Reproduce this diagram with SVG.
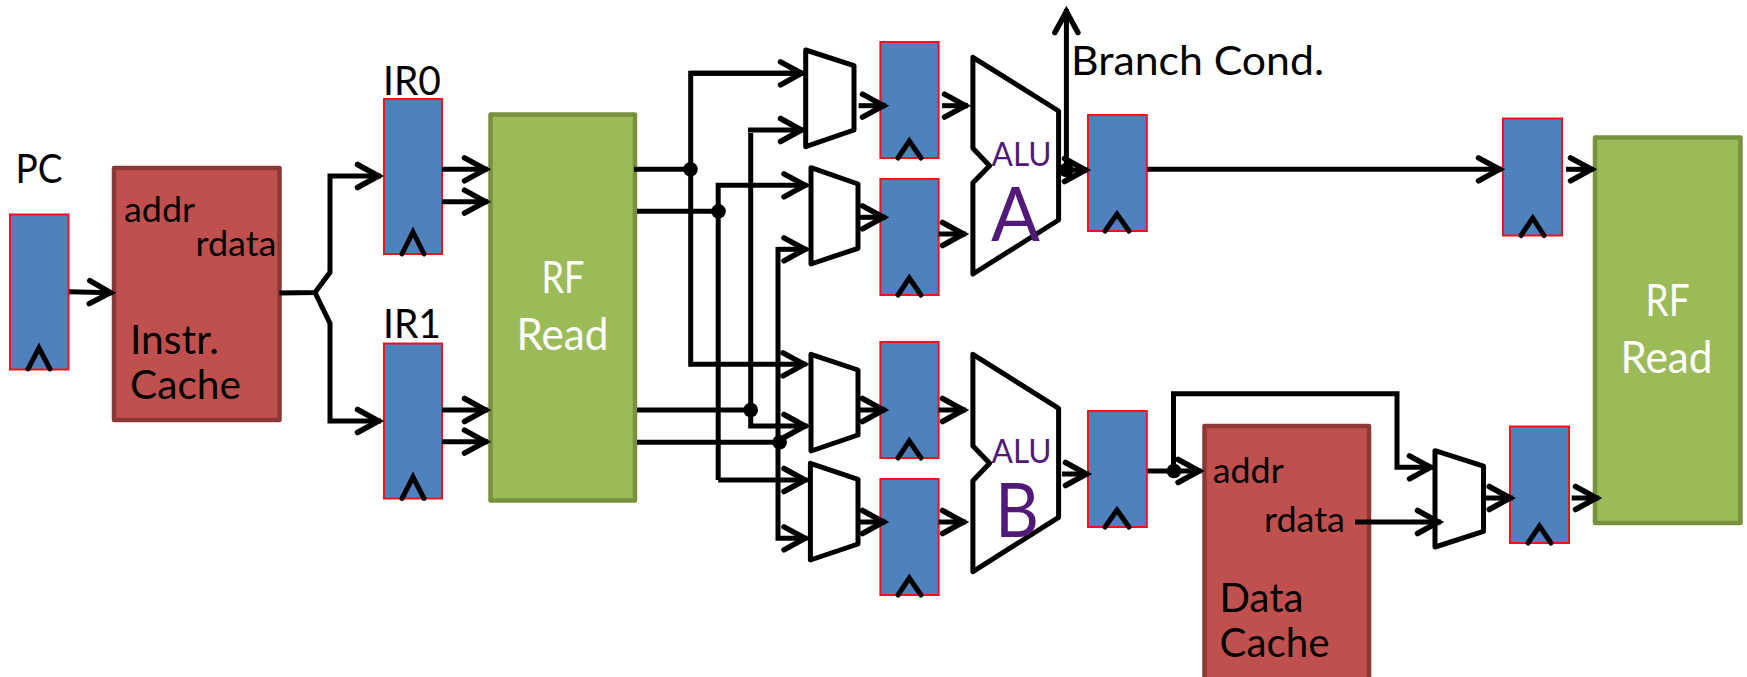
<svg xmlns="http://www.w3.org/2000/svg" width="1747" height="677" viewBox="0 0 1747 677">
<style>
text{font-family:"Lato","Liberation Sans",sans-serif;fill:#000}
.t{font-size:41px}.s{font-size:34px}
.w{fill:#fff;font-size:45px}
.p{fill:#52197a}
.reg{fill:#4f81bd;stroke:#f5111c;stroke-width:2}
.ck{fill:none;stroke:#000;stroke-width:5;stroke-linejoin:miter;stroke-linecap:round}
.rf{fill:#9bbb59;stroke:#76923c;stroke-width:4.5;stroke-linejoin:round}
.ca{fill:#c0504d;stroke:#8c3836;stroke-width:4.5;stroke-linejoin:round}
.sh{fill:#fff;stroke:#000;stroke-width:5;stroke-linejoin:round}
#connectors path{fill:none;stroke:#000;stroke-width:5;stroke-linejoin:miter}
#connectors path.a{marker-end:url(#arr)}
#connectors circle{fill:#000}
</style>
<defs>
<marker id="arr" markerUnits="userSpaceOnUse" markerWidth="40" markerHeight="40" viewBox="-30 -20 40 40" refX="2.5" refY="0" orient="auto">
<path d="M-21,-11.5 L0,0 L-21,11.5" fill="none" stroke="#000" stroke-width="5.500" stroke-linecap="round"/>
</marker>
</defs>
<g id="pc"><rect class="reg" x="10" y="214.500" width="58.500" height="155"/><path class="ck" d="M28,369 L39,348 L50,369"/><text class="t" x="15.500" y="183" textLength="47" lengthAdjust="spacingAndGlyphs">PC</text></g>
<g id="instr-cache"><rect class="ca" x="114" y="168" width="165.500" height="252"/><text class="s" x="124" y="221.500" textLength="71" lengthAdjust="spacingAndGlyphs">addr</text><text class="s" x="195.500" y="255.500" textLength="81" lengthAdjust="spacingAndGlyphs">rdata</text><text class="t" x="130" y="354" textLength="89" lengthAdjust="spacingAndGlyphs">Instr.</text><text class="t" x="130" y="398.500" textLength="111" lengthAdjust="spacingAndGlyphs">Cache</text></g>
<g id="ir0"><rect class="reg" x="384" y="99" width="58" height="155"/><path class="ck" d="M402,254 L413,232 L424,254"/><text class="t" x="383" y="95" textLength="58" lengthAdjust="spacingAndGlyphs">IR0</text></g>
<g id="ir1"><rect class="reg" x="384" y="343.500" width="58" height="155"/><path class="ck" d="M402,498.500 L413,477 L424,498.500"/><text class="t" x="383" y="338" textLength="58" lengthAdjust="spacingAndGlyphs">IR1</text></g>
<g id="rf-read-1"><rect class="rf" x="490.500" y="114.500" width="144.500" height="386"/><text class="w" x="541.500" y="292.500" textLength="43" lengthAdjust="spacingAndGlyphs">RF</text><text class="w" x="516.500" y="349.500" textLength="92" lengthAdjust="spacingAndGlyphs">Read</text></g>
<g id="mux-1"><path class="sh" d="M805.700,50 L854,65.700 L854,130 L805.700,146.700 Z"/></g>
<g id="mux-2"><path class="sh" d="M811,167.700 L858,184 L858,248.300 L811,264 Z"/></g>
<g id="mux-3"><path class="sh" d="M811,354.300 L858,370 L858,435 L811,451 Z"/></g>
<g id="mux-4"><path class="sh" d="M810.400,463.300 L858,479.300 L858,544 L810.400,560 Z"/></g>
<g id="reg-a1"><rect class="reg" x="880.400" y="42" width="58.200" height="116"/><path class="ck" d="M898,158 L909.300,141 L921,158"/></g>
<g id="reg-a2"><rect class="reg" x="880.400" y="179" width="58.200" height="116"/><path class="ck" d="M898,295 L909.300,278 L921,295"/></g>
<g id="reg-b1"><rect class="reg" x="880.400" y="342" width="58.200" height="116"/><path class="ck" d="M898,458 L909.300,441 L921,458"/></g>
<g id="reg-b2"><rect class="reg" x="880.400" y="479" width="58.200" height="116"/><path class="ck" d="M898,595 L909.300,578 L921,595"/></g>
<g id="alu-a"><path class="sh" d="M972.900,57.300 L1058.600,111 L1058.600,220 L972.900,274 L972.900,182.700 L989.600,165.700 L972.900,148.300 Z"/><text class="p" x="991.500" y="166" font-size="33" textLength="60" lengthAdjust="spacingAndGlyphs">ALU</text><text class="p" x="991" y="241" font-size="76" textLength="49" lengthAdjust="spacingAndGlyphs">A</text></g>
<g id="alu-b"><path class="sh" d="M972.900,354.300 L1058.600,408.300 L1058.600,517.300 L972.900,571.700 L972.900,480.700 L989.600,463.300 L972.900,446 Z"/><text class="p" x="991.500" y="462.500" font-size="33" textLength="60" lengthAdjust="spacingAndGlyphs">ALU</text><text class="p" x="995" y="537" font-size="76" textLength="44" lengthAdjust="spacingAndGlyphs">B</text></g>
<g id="reg-a3"><rect class="reg" x="1088" y="115" width="58.800" height="116"/><path class="ck" d="M1105,231 L1117,214 L1129,231"/></g>
<g id="reg-b3"><rect class="reg" x="1088" y="411" width="58.800" height="116"/><path class="ck" d="M1105,527 L1117,510 L1129,527"/></g>
<g id="reg-c1"><rect class="reg" x="1503" y="118.500" width="59" height="117"/><path class="ck" d="M1521,235.500 L1532.700,218 L1544,235.500"/></g>
<g id="reg-c2"><rect class="reg" x="1510" y="426.500" width="59" height="116.500"/><path class="ck" d="M1528,543 L1539.500,526 L1551,543"/></g>
<g id="data-cache"><rect class="ca" x="1204.500" y="426" width="164.500" height="260"/><text class="s" x="1212.700" y="483" textLength="71" lengthAdjust="spacingAndGlyphs">addr</text><text class="s" x="1264" y="531.500" textLength="81" lengthAdjust="spacingAndGlyphs">rdata</text><text class="t" x="1219.500" y="612" textLength="84" lengthAdjust="spacingAndGlyphs">Data</text><text class="t" x="1219.500" y="656.500" textLength="110" lengthAdjust="spacingAndGlyphs">Cache</text></g>
<g id="mux-5"><path class="sh" d="M1435,450.700 L1483.500,466.200 L1483.500,531.400 L1435,547 Z"/></g>
<g id="rf-read-2"><rect class="rf" x="1595" y="137.500" width="145.500" height="385.500"/><text class="w" x="1645.500" y="315.500" textLength="44" lengthAdjust="spacingAndGlyphs">RF</text><text class="w" x="1620.500" y="373" textLength="92" lengthAdjust="spacingAndGlyphs">Read</text></g>
<text id="branch-label" class="t" x="1071" y="75" textLength="253" lengthAdjust="spacingAndGlyphs">Branch Cond.</text>
<g id="connectors">
<path class="a" d="M69,291.700 L113,292.700"/>
<path class="a" d="M279.500,293 L315,292.500 L330,272.300 L330,176 L381,176"/>
<path class="a" d="M315,292.500 L330,323.300 L330,421 L381,421"/>
<path class="a" d="M442,169.300 L488,169.300"/><path class="a" d="M442,201.700 L488,201.700"/>
<path class="a" d="M442,410 L488,410"/><path class="a" d="M442,441.700 L488,441.700"/>
<path d="M634,169.300 L690.500,169.300"/><path d="M637,211.300 L718.500,211.300"/>
<path d="M637,410 L750.700,410"/><path d="M637,442.300 L779,442.300"/>
<path class="a" d="M804,73.300 L690.700,73.300 L690.700,364.300 L806.500,364.300"/>
<path class="a" d="M690.700,73.300 L804,73.300"/>
<path class="a" d="M748,130 L804,130"/>
<path class="a" d="M750.700,133 L750.700,426 L807.500,426"/>
<path class="a" d="M718.200,480 L718.200,185.300 L807.500,185.300"/>
<path class="a" d="M718.200,480 L807.500,480"/>
<path class="a" d="M778,249.300 L807.500,249.300"/>
<path class="a" d="M778,247 L778,538.300 L807.500,538.300"/>
<path class="a" d="M858.600,105.700 L886,105.700"/><path class="a" d="M860,217.300 L886,217.300"/>
<path class="a" d="M860,410 L886,410"/><path class="a" d="M860,522 L886,522"/>
<path class="a" d="M942,105.700 L968,105.700"/><path class="a" d="M938.600,234 L966,234"/>
<path class="a" d="M938.600,410 L966,410"/><path class="a" d="M938.600,522 L966,522"/>
<path class="a" d="M1066.400,170 L1066.400,9"/>
<path class="a" d="M1058.600,170 L1088,170"/>
<path class="a" d="M1062,474 L1089,474"/>
<path class="a" d="M1147,169.300 L1502,169.300"/>
<path class="a" d="M1566,169.300 L1594,169.300"/>
<path class="a" d="M1147.500,471 L1201.600,471"/>
<path class="a" d="M1173.500,471 L1173.500,393.700 L1397,393.700 L1397,467.300 L1433,467.300"/>
<path class="a" d="M1355,522 L1441,522"/>
<path class="a" d="M1486,498 L1512.700,498"/><path class="a" d="M1571.700,498 L1599,498"/>
<circle cx="690.500" cy="169.300" r="7.300"/><circle cx="718.500" cy="211.300" r="7.300"/>
<circle cx="750.700" cy="410" r="7.300"/><circle cx="779.600" cy="442.300" r="7.300"/>
<circle cx="1066.400" cy="170" r="7.300"/><circle cx="1174" cy="471" r="7.300"/>
</g>
</svg>
